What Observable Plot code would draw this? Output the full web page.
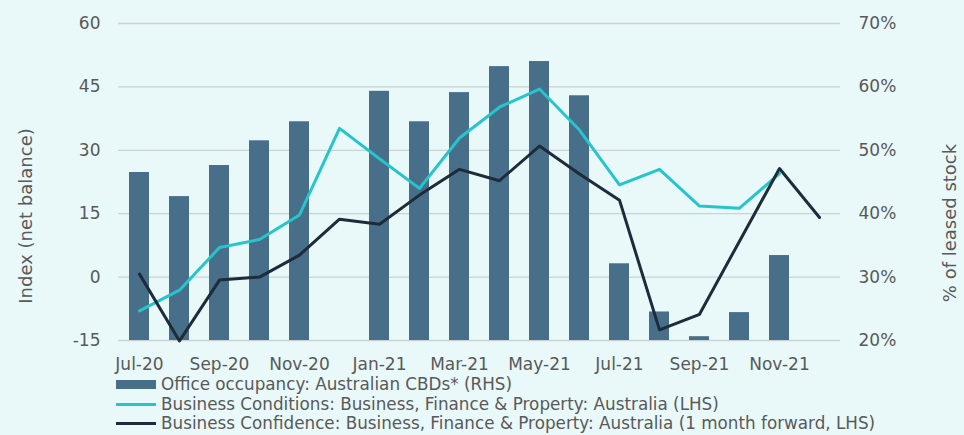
<!DOCTYPE html>
<html>
<head>
<meta charset="utf-8">
<script src="https://cdn.jsdelivr.net/npm/d3@7"></script>
<script src="https://cdn.jsdelivr.net/npm/@observablehq/plot@0.6"></script>
<style>
  html, body { margin: 0; padding: 0; background: #e9f8f8; }
  #wrap { width: 964px; height: 435px; position: relative; overflow: hidden; background: #e9f8f8; font-family: "DejaVu Sans", sans-serif; }
  #chart { position: absolute; left: 0; top: 0; }
  #legend { position: absolute; left: 116px; top: 375px; font-size: 16.8px; color: #595959; line-height: 19.5px; }
  .row { display: flex; align-items: center; height: 19.5px; white-space: nowrap; }
  .sw { width: 40px; margin-right: 5px; flex: none; }
</style>
</head>
<body>
<div id="wrap"><div id="chart"></div><div id="legend"></div></div>
<script>
const months = ["Jul-20","Aug-20","Sep-20","Oct-20","Nov-20","Dec-20","Jan-21","Feb-21","Mar-21","Apr-21","May-21","Jun-21","Jul-21","Aug-21","Sep-21","Oct-21","Nov-21","Dec-21"];
const occupancy = [46.5, 42.7, 47.6, 51.5, 54.5, null, 59.3, 54.5, 59.1, 63.2, 64.0, 58.6, 32.1, 24.5, 20.6, 24.4, 33.4, null];
const conditions = [-8.0, -3.1, 7.0, 8.9, 14.7, 35.2, 28.0, 21.0, 32.9, 40.2, 44.5, 34.8, 21.8, 25.5, 16.8, 16.3, 24.5, null];
const confidence = [0.7, -15.1, -0.7, 0.0, 5.2, 13.7, 12.5, 19.4, 25.5, 22.8, 31.0, 24.4, 18.2, -12.5, -8.8, 8.5, 25.7, 14.1];
const leftTicks = [-15, 0, 15, 30, 45, 60];
const leftTickLabels = ["-15", "0", "15", "30", "45", "60"];
const rightTickLabels = ["20%", "30%", "40%", "50%", "60%", "70%"];
const seriesNames = [
  "Office occupancy: Australian CBDs* (RHS)",
  "Business Conditions: Business, Finance & Property: Australia (LHS)",
  "Business Confidence: Business, Finance & Property: Australia (1 month forward, LHS)"
];
const leftLabel = "Index (net balance)";
const rightLabel = "% of leased stock";

const colBar = "#486f89", colCond = "#26c4cc", colConf = "#1e2b3a";
// map RHS % onto LHS scale: 20% -> -15, 70% -> 60
const toLeft = p => -15 + (p - 20) * 1.5;

const bars = months.map((m, i) => ({m, v: occupancy[i]})).filter(d => d.v != null);
const cond = months.map((m, i) => ({m, v: conditions[i]})).filter(d => d.v != null);
const conf = months.map((m, i) => ({m, v: confidence[i]})).filter(d => d.v != null);

const chart = Plot.plot({
  width: 964,
  height: 378,
  marginLeft: 118,
  marginRight: 124,
  marginTop: 23,
  marginBottom: 38,
  style: {background: "transparent", fontFamily: "DejaVu Sans, sans-serif", fontSize: "17px", color: "#595959"},
  x: {type: "band", domain: months, paddingInner: 0.5, paddingOuter: 0.25, label: null},
  y: {domain: [-15, 60], label: null},
  marks: [
    Plot.gridY(leftTicks, {stroke: "#c9d3d6", strokeOpacity: 1, strokeWidth: 1.3}),
    Plot.barY(bars, {x: "m", y1: -15, y2: d => toLeft(d.v), fill: colBar}),
    Plot.line(cond, {x: "m", y: "v", stroke: colCond, strokeWidth: 3}),
    Plot.line(conf, {x: "m", y: "v", stroke: colConf, strokeWidth: 3}),
    Plot.axisY({anchor: "left", ticks: leftTicks, tickSize: 0, tickPadding: 18, label: null, fill: "#595959",
      tickFormat: d => leftTickLabels[leftTicks.indexOf(d)]}),
    Plot.axisY({anchor: "right", ticks: leftTicks, tickSize: 0, tickPadding: 18, label: null, fill: "#595959",
      tickFormat: d => rightTickLabels[leftTicks.indexOf(d)]}),
    Plot.axisX({anchor: "bottom", tickSize: 0, tickPadding: 17, label: null, fill: "#595959",
      tickFormat: d => (months.indexOf(d) % 2 === 0 ? d : "")}),
    Plot.text([leftLabel], {frameAnchor: "left", textAnchor: "middle", dx: -92, dy: 34, rotate: -90, fill: "#595959", fontSize: 18}),
    Plot.text([rightLabel], {frameAnchor: "right", textAnchor: "middle", dx: 110, dy: 41, rotate: -90, fill: "#595959", fontSize: 18})
  ]
});
document.getElementById("chart").appendChild(chart);

const legend = document.getElementById("legend");
const swatches = [
  `<div class="sw" style="height:9px;background:${colBar}"></div>`,
  `<div class="sw" style="height:3px;background:${colCond}"></div>`,
  `<div class="sw" style="height:3px;background:${colConf}"></div>`
];
seriesNames.forEach((n, i) => {
  const row = document.createElement("div");
  row.className = "row";
  row.innerHTML = swatches[i] + `<span></span>`;
  row.querySelector("span").textContent = n;
  legend.appendChild(row);
});
</script>
</body>
</html>
